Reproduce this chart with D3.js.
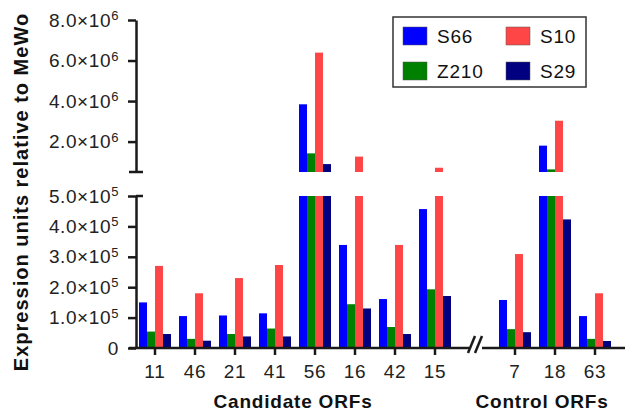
<!DOCTYPE html>
<html>
<head>
<meta charset="utf-8">
<script src="https://cdn.jsdelivr.net/npm/d3@7"></script>
<style>
  body { margin: 0; background: #fff; }
  svg { font-family: "Liberation Sans", Arial, sans-serif; }
</style>
</head>
<body>
<script>
// ORF labels, candidate group then control group
const candidate = ["11", "46", "21", "41", "56", "16", "42", "15"];
const control = ["7", "18", "63"];
const categories = candidate.concat(control);

// series (same order as the bars inside each group)
const seriesNames = ["S66", "Z210", "S10", "S29"];
const seriesColors = ["#0000ff", "#008000", "#ff4646", "#000080"];

// expression units relative to MeWo, one value per ORF
const s66  = [1.50e5, 1.05e5, 1.07e5, 1.14e5, 3.84e6, 3.39e5, 1.61e5, 4.57e5, 1.58e5, 1.80e6, 1.05e5];
const z210 = [0.54e5, 0.30e5, 0.46e5, 0.64e5, 1.42e6, 1.44e5, 0.69e5, 1.93e5, 0.62e5, 0.63e6, 0.30e5];
const s10  = [2.70e5, 1.80e5, 2.30e5, 2.73e5, 6.39e6, 1.26e6, 3.39e5, 0.71e6, 3.09e5, 3.03e6, 1.80e5];
const s29  = [0.46e5, 0.24e5, 0.38e5, 0.38e5, 0.89e6, 1.30e5, 0.46e5, 1.71e5, 0.52e5, 4.23e5, 0.23e5];
const seriesValues = [s66, z210, s10, s29];

// axis ticks for the two panels of the broken y axis
const lowTicks = [0, 1e5, 2e5, 3e5, 4e5, 5e5];
const highTicks = [2e6, 4e6, 6e6, 8e6];
const breakValue = 5e5;

const width = 625, height = 416;

const svg = d3.select("body").append("svg")
    .attr("width", width)
    .attr("height", height);

// x slots: candidates, one empty slot for the axis break, controls
const slots = candidate.concat(["break"], control);
const x = d3.scaleBand()
    .domain(slots)
    .range([135, 615])
    .padding(0);

const xInner = d3.scaleBand()
    .domain(seriesNames)
    .range([4, x.bandwidth() - 4])
    .padding(0);

// two y scales
const yLow = d3.scaleLinear().domain([0, breakValue]).range([348, 196]);
const yHigh = d3.scaleLinear().domain([breakValue, 8e6]).range([172, 20]);

const axisX = 136;

function sciLabel(sel) {
    sel.each(function(d) {
        const t = d3.select(this);
        t.text(null);
        if (d === 0) { t.text("0"); return; }
        const exp = Math.floor(Math.log10(d));
        const mant = (d / Math.pow(10, exp)).toFixed(1);
        t.append("tspan").text(mant + "\u00d710");
        t.append("tspan").attr("dy", "-0.5em").attr("font-size", "13px").text(exp);
    });
}

// bars
const table = [];
categories.forEach((c, i) => {
    seriesNames.forEach((s, j) => {
        table.push({cat: c, series: s, color: seriesColors[j], value: seriesValues[j][i]});
    });
});

const bars = svg.append("g");
bars.selectAll("rect.low")
    .data(table)
    .enter().append("rect")
    .attr("class", "low")
    .attr("x", d => x(d.cat) + xInner(d.series))
    .attr("width", xInner.bandwidth())
    .attr("y", d => yLow(Math.min(d.value, breakValue)))
    .attr("height", d => yLow(0) - yLow(Math.min(d.value, breakValue)))
    .attr("fill", d => d.color);

bars.selectAll("rect.high")
    .data(table.filter(d => d.value > breakValue))
    .enter().append("rect")
    .attr("class", "high")
    .attr("x", d => x(d.cat) + xInner(d.series))
    .attr("width", xInner.bandwidth())
    .attr("y", d => yHigh(d.value))
    .attr("height", d => yHigh(breakValue) - yHigh(d.value))
    .attr("fill", d => d.color);

// y axes
const axisColor = "#1a1a1a";
const lowAxis = svg.append("g")
    .attr("transform", "translate(" + axisX + ",0)")
    .call(d3.axisLeft(yLow).tickValues(lowTicks).tickSize(8).tickSizeOuter(0).tickPadding(9));

const highAxis = svg.append("g")
    .attr("transform", "translate(" + axisX + ",0)")
    .call(d3.axisLeft(yHigh).tickValues(highTicks).tickSize(8).tickSizeOuter(0).tickPadding(9));

[lowAxis, highAxis].forEach(a => {
    a.selectAll("path.domain").attr("stroke", axisColor).attr("stroke-width", 2.5);
    a.selectAll(".tick line").attr("stroke", axisColor).attr("stroke-width", 2.5);
    a.selectAll(".tick text")
        .attr("font-size", "19px")
        .attr("letter-spacing", "0.6px")
        .attr("fill", "#222")
        .attr("font-family", "Liberation Sans, Arial, sans-serif")
        .call(sciLabel);
});

// caps at the break of the y axis
svg.append("line")
    .attr("x1", axisX - 7).attr("x2", axisX + 7)
    .attr("y1", yHigh(breakValue)).attr("y2", yHigh(breakValue))
    .attr("stroke", axisColor).attr("stroke-width", 2.5);
svg.append("line")
    .attr("x1", axisX).attr("x2", axisX + 7)
    .attr("y1", yLow(breakValue)).attr("y2", yLow(breakValue))
    .attr("stroke", axisColor).attr("stroke-width", 2.5);

// x axis
const xAxis = svg.append("g")
    .attr("transform", "translate(0," + yLow(0) + ")")
    .call(d3.axisBottom(x).tickValues(categories).tickSize(7).tickSizeOuter(0).tickPadding(10));
xAxis.select("path.domain").remove();
xAxis.selectAll(".tick line").attr("stroke", axisColor).attr("stroke-width", 2.5);
xAxis.selectAll(".tick text")
    .attr("font-size", "19px")
    .attr("letter-spacing", "0.8px")
    .attr("fill", "#222")
    .attr("font-family", "Liberation Sans, Arial, sans-serif");

// x axis line with a break
const breakX = x("break") + x.bandwidth() / 2;
xAxis.append("line")
    .attr("x1", axisX - 7).attr("x2", breakX - 6)
    .attr("stroke", axisColor).attr("stroke-width", 2.5);
xAxis.append("line")
    .attr("x1", breakX + 7).attr("x2", width)
    .attr("stroke", axisColor).attr("stroke-width", 2.5);
[-3, 4].forEach(off => {
    xAxis.append("line")
        .attr("x1", breakX + off - 4).attr("y1", 5)
        .attr("x2", breakX + off + 3).attr("y2", -12)
        .attr("stroke", axisColor).attr("stroke-width", 2.5);
});

// group labels
const groupLabels = [
    {text: "Candidate ORFs", cats: candidate, shift: -2},
    {text: "Control ORFs", cats: control, shift: -13}
];
svg.selectAll("text.group")
    .data(groupLabels)
    .enter().append("text")
    .attr("class", "group")
    .attr("x", d => (x(d.cats[0]) + x(d.cats[d.cats.length - 1]) + x.bandwidth()) / 2 + d.shift)
    .attr("y", 408)
    .attr("text-anchor", "middle")
    .attr("font-size", "19px")
    .attr("letter-spacing", "0.8px")
    .attr("font-weight", "bold")
    .attr("fill", "#111")
    .text(d => d.text);

// y axis title
svg.append("text")
    .attr("transform", "rotate(-90)")
    .attr("x", -192)
    .attr("y", 28)
    .attr("text-anchor", "middle")
    .attr("font-size", "20px")
    .attr("letter-spacing", "1px")
    .attr("font-weight", "bold")
    .attr("fill", "#111")
    .text("Expression units relative to MeWo");

// legend
const legend = svg.append("g").attr("transform", "translate(393,17)");
legend.append("rect")
    .attr("width", 193).attr("height", 70)
    .attr("fill", "#fff")
    .attr("stroke", "#333").attr("stroke-width", 1.5);

const legendOrder = [0, 2, 1, 3]; // S66, S10 / Z210, S29
const items = legend.selectAll("g.item")
    .data(legendOrder)
    .enter().append("g")
    .attr("class", "item")
    .attr("transform", (d, i) => "translate(" + (10 + (i % 2) * 103) + "," + (10 + Math.floor(i / 2) * 35) + ")");
items.append("rect")
    .attr("width", 24).attr("height", 18)
    .attr("fill", d => seriesColors[d])
    .attr("stroke", "#555").attr("stroke-width", 0.5);
items.append("text")
    .attr("x", 34).attr("y", 9)
    .attr("dy", "0.35em")
    .attr("font-size", "19px")
    .attr("letter-spacing", "0.8px")
    .attr("fill", "#111")
    .text(d => seriesNames[d]);
</script>
</body>
</html>
